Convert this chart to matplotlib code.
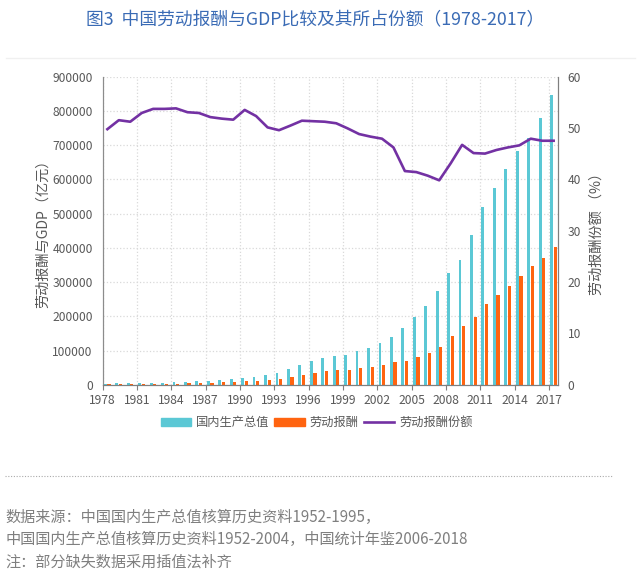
import matplotlib
matplotlib.use('Agg')
import matplotlib.pyplot as plt
from matplotlib.lines import Line2D
from matplotlib.patches import Patch
import numpy as np

plt.rcParams['font.family'] = ['Noto Sans CJK SC', 'DejaVu Sans']

years = list(range(1978, 2018))
# 国内生产总值 (亿元)
gdp = [3600, 4100, 4600, 5000, 5500, 6100, 7300, 9100, 10400, 12300,
       15400, 17300, 19300, 22600, 27900, 36000, 46500, 57700, 68500, 77300,
       83100, 88000, 99700, 108500, 121000, 138500, 166800, 196800, 230900, 275000,
       327800, 364900, 436900, 520500, 576000, 629500, 683000, 721000, 778400, 846500]
# 劳动报酬 (亿元)
comp = [1790, 2110, 2360, 2650, 2950, 3280, 3930, 4820, 5500, 6410,
        7980, 8930, 10330, 11820, 13980, 17500, 23000, 29700, 35500, 39400,
        42300, 44300, 48100, 53000, 58900, 65600, 70500, 82200, 93900, 110500,
        143000, 172200, 197500, 235500, 263600, 289900, 318200, 346400, 370700, 402800]
# 劳动报酬份额 (%)
share = [49.75, 51.5, 51.2, 52.9, 53.7, 53.7, 53.8, 53.05, 52.9, 52.1,
         51.8, 51.6, 53.5, 52.3, 50.1, 49.55, 50.45, 51.4, 51.3, 51.2,
         50.9, 49.9, 48.8, 48.3, 47.9, 46.2, 41.6, 41.4, 40.7, 39.8,
         43.1, 46.7, 45.1, 45.0, 45.7, 46.2, 46.6, 47.9, 47.5, 47.5]

TEAL = '#5BC8D5'
ORANGE = '#FF6410'
PURPLE = '#7331A3'
GREY = '#595959'

fig = plt.figure(figsize=(6.41, 5.84), dpi=100)
ax = fig.add_axes([0.160, 0.341, 0.7105, 0.528])
ax2 = ax.twinx()

x = np.arange(len(years))
ax.bar(x - 0.18, gdp, width=0.25, color=TEAL, zorder=2)
ax.bar(x + 0.14, comp, width=0.28, color=ORANGE, zorder=2)
ax2.plot(x, share, color=PURPLE, lw=1.9, zorder=3)

ax.set_xlim(-0.42, 39.38)
ax.set_ylim(0, 900000)
ax2.set_ylim(0, 60)

tick_idx = list(range(0, 40, 3))
ax.set_xticks([i - 0.42 for i in tick_idx])
ax.set_xticklabels([str(years[i]) for i in tick_idx])
ax.set_yticks(np.arange(0, 900001, 100000))
ax.set_yticklabels([str(v) for v in range(0, 900001, 100000)])
ax2.set_yticks(range(0, 61, 10))

ax.grid(True, color='#D9D9D9', linestyle=':', linewidth=0.9, zorder=0)
ax.set_axisbelow(True)

for a in (ax, ax2):
    a.spines['top'].set_visible(False)
    a.spines['left'].set_color('#8C8C8C')
    a.spines['right'].set_color('#7F7F7F')
    a.spines['bottom'].set_color('#7F7F7F')
ax.tick_params(axis='x', length=3.5, color='#7F7F7F', labelsize=8.7,
               labelcolor=GREY, pad=3)
ax.tick_params(axis='y', length=0, labelsize=8.7, labelcolor=GREY, pad=7)
ax2.tick_params(axis='y', length=0, labelsize=8.7, labelcolor=GREY, pad=7)

ax.set_ylabel('劳动报酬与GDP（亿元）', fontsize=10.2, color=GREY, labelpad=2)
ax2.set_ylabel('劳动报酬份额 （%）', fontsize=10.2, color=GREY, labelpad=6)

handles = [Patch(color=TEAL), Patch(color=ORANGE), Line2D([], [], color=PURPLE, lw=1.9)]
fig.legend(handles, ['国内生产总值', '劳动报酬', '劳动报酬份额'],
           loc='center', bbox_to_anchor=(0.494, 0.276), ncol=3, frameon=False,
           fontsize=8.8, labelcolor=GREY, handlelength=2.5, handleheight=0.6,
           handletextpad=0.4, columnspacing=0.4)

fig.text(0.492, 0.965, '图3  中国劳动报酬与GDP比较及其所占份额（1978-2017）',
         ha='center', va='center', fontsize=12.8, color='#3A6BB5')
fig.add_artist(Line2D([0.01, 0.99], [0.9, 0.9], color='#F0F0F0', lw=1))
fig.add_artist(Line2D([0.008, 0.955], [0.185, 0.185], color='#AAAAAA', lw=0.8,
                      linestyle=(0, (1, 1.5))))

notes = ['数据来源：中国国内生产总值核算历史资料1952-1995，',
         '中国国内生产总值核算历史资料1952-2004，中国统计年鉴2006-2018',
         '注：部分缺失数据采用插值法补齐']
for k, s in enumerate(notes):
    fig.text(0.008, 1 - (517 + 22.5 * k) / 584, s, ha='left', va='center',
             fontsize=10.9, color='#7F7F7F')

plt.savefig('out.png', dpi=100)
